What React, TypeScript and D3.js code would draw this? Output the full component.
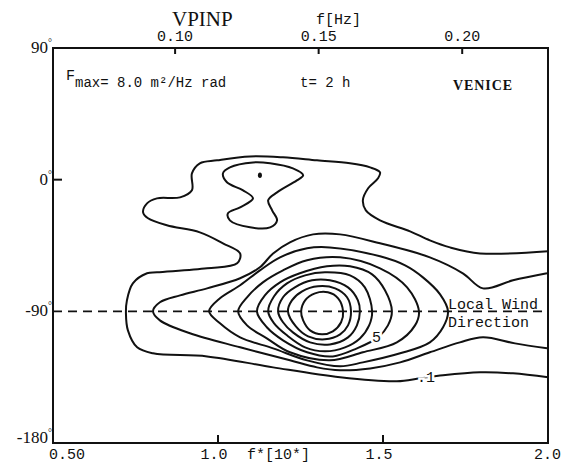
import React from "react";
import * as d3 from "d3";

// ---- axis values ----
const xTicksBottom = [1.0, 1.5];
const xTickLabelsBottom = [
  { v: 0.5, t: "0.50" },
  { v: 1.0, t: "1.0" },
  { v: 1.5, t: "1.5" },
  { v: 2.0, t: "2.0" },
];
const hzTicks = [0.1, 0.15, 0.2];
const hzToFstar = 8.7;
const yTickLabels = [90, 0, -90, -180];
const windDirection = -90;

// ---- contour lines, [f* , direction deg] ----
const contourOuter: [number, number][] = [
  [2.0, -49], [1.794, -50.4], [1.703, -46.3], [1.642, -41.5], [1.582, -35.3], [1.491, -27.8],
  [1.448, -21.0], [1.439, -14.1], [1.455, -5.9], [1.485, 0.9], [1.491, 5.0], [1.461, 8.4],
  [1.4, 11.2], [1.3, 13.2], [1.197, 15.3], [1.097, 15.9], [0.997, 13.2], [0.945, 11.2],
  [0.921, 4.3], [0.921, -7.3], [0.885, -12.1], [0.815, -12.8], [0.785, -16.2], [0.773, -22.3],
  [0.788, -26.4], [0.845, -31.2], [0.945, -36.0], [1.015, -43.5], [1.067, -50.4], [1.058, -57.2],
  [0.967, -60.6], [0.815, -63.3], [0.785, -64.0], [0.742, -70.9], [0.724, -82.5], [0.721, -91.4],
  [0.727, -103.0], [0.755, -114.6], [0.803, -118.7], [0.967, -120.8], [1.167, -128.3], [1.37, -135.1],
  [1.542, -137.8], [1.612, -135.8], [1.682, -133.7], [1.794, -131.7], [1.894, -132.4], [2.0, -135.1],
];
const contourHourglass: [number, number][] = [
  [1.015, 4.3], [1.036, 8.4], [1.106, 11.8], [1.158, 11.2], [1.227, 7.7], [1.258, 3.0],
  [1.239, -0.5], [1.179, -8.7], [1.152, -14.1], [1.164, -21.0], [1.179, -27.8], [1.158, -32.6],
  [1.097, -32.6], [1.036, -27.8], [1.03, -23.0], [1.067, -18.9], [1.106, -12.8], [1.076, -7.3],
  [1.027, -1.8],
];
const hourglassPeak: [number, number] = [1.127, 3.0];
const contourSecond: [number, number][] = [
  [1.997, -64.0], [1.894, -68.8], [1.803, -74.3], [1.742, -64.0], [1.642, -53.1], [1.491, -43.5],
  [1.37, -37.4], [1.288, -37.4], [1.218, -42.8], [1.167, -50.4], [1.127, -59.9], [1.067, -67.4],
  [0.967, -74.3], [0.885, -79.1], [0.824, -83.8], [0.803, -90], [0.824, -96.2], [0.915, -105.0],
  [1.067, -114.6], [1.218, -123.5], [1.3, -128.3], [1.37, -130.3], [1.461, -129.0], [1.552, -124.9],
  [1.642, -118.0], [1.733, -111.2], [1.803, -107.8], [1.9, -111.9], [1.997, -115.3],
];
const contourC3: [number, number][] = [
  [0.973, -90], [1.006, -81.1], [1.067, -72.2], [1.127, -62.0], [1.188, -53.1], [1.27, -46.9],
  [1.339, -46.3], [1.491, -52.4], [1.567, -58.6], [1.621, -66.8], [1.673, -78.4], [1.697, -90],
  [1.682, -100.9], [1.642, -111.2], [1.552, -118.7], [1.439, -124.9], [1.37, -127.6], [1.27, -123.5],
  [1.167, -115.3], [1.067, -107.8], [1.006, -98.2],
];
const contourC4: [number, number][] = [
  [1.061, -90], [1.088, -80.4], [1.136, -70.2], [1.197, -62.0], [1.27, -55.1], [1.37, -53.1],
  [1.491, -60.6], [1.573, -73.6], [1.609, -90], [1.597, -99.6], [1.542, -111.2], [1.439, -118.0],
  [1.339, -123.5], [1.218, -118.0], [1.148, -108.5], [1.088, -99.6],
];
const contourC5: [number, number][] = [
  [1.118, -90], [1.142, -79.1], [1.188, -70.2], [1.248, -64.0], [1.33, -59.2], [1.4, -59.2],
  [1.467, -64.7], [1.506, -75.6], [1.527, -90], [1.515, -99.6], [1.485, -107.8], [1.421, -115.3],
  [1.348, -120.8], [1.27, -118.0], [1.197, -109.8], [1.148, -100.9],
];
const contourC6: [number, number][] = [
  [1.152, -90], [1.17, -79.7], [1.209, -70.9], [1.264, -65.4], [1.324, -63.3], [1.4, -65.4],
  [1.445, -73.6], [1.467, -90], [1.458, -99.6], [1.43, -108.5], [1.385, -114.6], [1.324, -117.3],
  [1.264, -114.6], [1.209, -106.4], [1.17, -98.2],
];
const contourC7: [number, number][] = [
  [1.182, -90], [1.197, -80.4], [1.233, -73.6], [1.285, -68.8], [1.339, -68.8], [1.394, -73.6],
  [1.424, -82.5], [1.43, -90], [1.421, -99.6], [1.394, -107.8], [1.339, -112.6], [1.279, -111.2],
  [1.227, -104.4], [1.197, -97.5],
];
const contourC8: [number, number][] = [
  [1.212, -90], [1.224, -82.5], [1.255, -76.3], [1.303, -72.9], [1.355, -74.3], [1.391, -80.4],
  [1.403, -90], [1.394, -99.6], [1.37, -105.7], [1.324, -109.1], [1.273, -107.1], [1.236, -100.3],
];
const contourC9: [number, number][] = [
  [1.252, -90], [1.264, -82.5], [1.294, -77.7], [1.333, -77.0], [1.364, -81.1], [1.379, -90],
  [1.373, -97.5], [1.348, -103.7], [1.315, -105.7], [1.279, -103.0], [1.258, -96.2],
];
const openContours = [contourOuter, contourSecond];
const closedContours = [contourHourglass, contourC3, contourC4, contourC5, contourC6, contourC7, contourC8, contourC9];
const contourLabels = [
  { text: "5", at: [1.48, -108.5] as [number, number] },
  { text: ".1", at: [1.63, -135.5] as [number, number] },
];

export default function App() {
  const W = 563, H = 469;
  const x = d3.scaleLinear().domain([0.5, 2.0]).range([53, 548]);
  const y = d3.scaleLinear().domain([-180, 90]).range([443, 48]);
  const hz = (f: number) => x(f * hzToFstar);

  const openLine = d3.line<[number, number]>().x(d => x(d[0])).y(d => y(d[1])).curve(d3.curveCatmullRom.alpha(0.5));
  const closedLine = d3.line<[number, number]>().x(d => x(d[0])).y(d => y(d[1])).curve(d3.curveCatmullRomClosed.alpha(0.5));

  const mono = "'Liberation Mono', 'DejaVu Sans Mono', monospace";
  const serif = "'Liberation Serif', 'DejaVu Serif', serif";
  const x0 = x(0.5), x1 = x(2.0), yT = y(90), yB = y(-180);

  return (
    <svg width={W} height={H} style={{ position: "absolute", left: 0, top: 0, background: "#fff" }}>
      <rect x={0} y={0} width={W} height={H} fill="#fff" />
      {/* frame */}
      <rect x={x0} y={yT} width={x1 - x0} height={yB - yT} fill="none" stroke="#111" strokeWidth={2} />
      {/* top Hz ticks */}
      {hzTicks.map(f => (
        <g key={"h" + f}>
          <line x1={hz(f)} x2={hz(f)} y1={yT} y2={yT + 6} stroke="#111" strokeWidth={2} />
          <text x={hz(f)} y={41} textAnchor="middle" fontFamily={mono} fontSize={15} fill="#111">{f.toFixed(2)}</text>
        </g>
      ))}
      {/* bottom ticks */}
      {xTicksBottom.map(v => (
        <line key={"b" + v} x1={x(v)} x2={x(v)} y1={yB} y2={yB - 8} stroke="#111" strokeWidth={2} />
      ))}
      {xTickLabelsBottom.map((d, i) => (
        <text key={"bl" + i} x={i === 0 ? x(d.v) - 4 : i === 3 ? x(d.v) + 13 : x(d.v) - 4}
          y={459} textAnchor={i === 0 ? "start" : i === 3 ? "end" : "middle"} fontFamily={mono} fontSize={15} fill="#111">{d.t}</text>
      ))}
      <text x={247} y={459} fontFamily={mono} fontSize={15} fill="#111">f*[10*]</text>
      {/* y tick at 0 */}
      <line x1={x0} x2={x0 + 9} y1={y(0)} y2={y(0)} stroke="#111" strokeWidth={2} />
      {yTickLabels.map(v => (
        <text key={"y" + v} x={x0 - 1} y={y(v) + (v === -180 ? 0 : 5)} textAnchor="end" fontFamily={serif} fontSize={17} fill="#111">
          {v}<tspan fontSize={10} dy={-7}>°</tspan>
        </text>
      ))}
      {/* titles */}
      <text x={172} y={26} fontFamily={serif} fontSize={21} fill="#111">VPINP</text>
      <text x={316} y={24} fontFamily={mono} fontSize={15} fill="#111">f[Hz]</text>
      {/* annotations */}
      <text x={66} y={80} fontFamily={mono} fontSize={15} fill="#111">F</text>
      <text x={75} y={87} fontFamily={mono} fontSize={14} fill="#111">max= 8.0 m²/Hz rad</text>
      <text x={300} y={87} fontFamily={mono} fontSize={14} fill="#111">t= 2 h</text>
      <text x={453} y={90} fontFamily={serif} fontSize={14} fontWeight="bold" fill="#111" textLength={59}>VENICE</text>
      {/* wind direction */}
      <line x1={x0} x2={x1} y1={y(windDirection)} y2={y(windDirection)} stroke="#111" strokeWidth={1.6} strokeDasharray="9,6" />
      <text x={448} y={y(windDirection) - 2} fontFamily={mono} fontSize={15} fill="#111">Local Wind</text>
      <text x={448} y={y(windDirection) + 16} fontFamily={mono} fontSize={15} fill="#111">Direction</text>
      {/* contours */}
      {openContours.map((c, i) => (
        <path key={"o" + i} d={openLine(c) || ""} fill="none" stroke="#111" strokeWidth={2} />
      ))}
      {closedContours.map((c, i) => (
        <path key={"c" + i} d={closedLine(c) || ""} fill="none" stroke="#111" strokeWidth={2} />
      ))}
      <ellipse cx={x(hourglassPeak[0])} cy={y(hourglassPeak[1])} rx={2} ry={2.8} fill="#111" />
      {contourLabels.map((l, i) => (
        <text key={"l" + i} x={x(l.at[0])} y={y(l.at[1])} textAnchor="middle" dominantBaseline="middle"
          fontFamily={mono} fontSize={15} fill="#111" stroke="#fff" strokeWidth={5} paintOrder="stroke">{l.text}</text>
      ))}
    </svg>
  );
}
